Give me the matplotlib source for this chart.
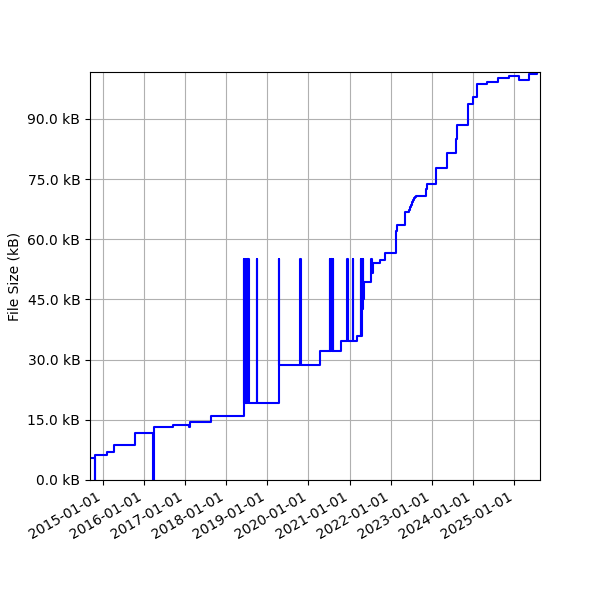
import matplotlib
matplotlib.use("Agg")
import matplotlib.pyplot as plt
import matplotlib.dates as mdates
from matplotlib.ticker import MultipleLocator, FuncFormatter
from datetime import datetime

# 文件大小历史 (kB)
dates = [
    "2014-09-12", "2014-10-22", "2014-10-30", "2015-02-08", "2015-04-12",
    "2015-10-16", "2016-03-28", "2016-04-05", "2016-09-16", "2017-02-03",
    "2017-02-14", "2017-08-19",
    "2018-06-06", "2018-06-08", "2018-06-10", "2018-06-12", "2018-06-14",
    "2018-06-16", "2018-06-19", "2018-06-21", "2018-06-24", "2018-06-26",
    "2018-06-29", "2018-07-01", "2018-07-04", "2018-07-06", "2018-07-09",
    "2018-07-11", "2018-07-14", "2018-07-16", "2018-07-19", "2018-07-22",
    "2018-10-01", "2018-10-04", "2019-04-13", "2019-04-16",
    "2019-10-22", "2019-10-25", "2020-04-16",
    "2020-07-09", "2020-07-12", "2020-07-16", "2020-07-19", "2020-07-23",
    "2020-07-26", "2020-07-30", "2020-08-02", "2020-08-06", "2020-08-08",
    "2020-10-19", "2020-12-13", "2020-12-16", "2021-01-30", "2021-02-02",
    "2021-03-04", "2021-04-13", "2021-04-16", "2021-04-20", "2021-04-23",
    "2021-04-27", "2021-04-30", "2021-05-04", "2021-05-10",
    "2021-07-13", "2021-07-16", "2021-07-27", "2021-09-25", "2021-11-07",
    "2022-02-13", "2022-02-25", "2022-05-10",
    "2022-06-12", "2022-06-16", "2022-06-20", "2022-06-24", "2022-06-28",
    "2022-07-02", "2022-07-06", "2022-07-10", "2022-07-14", "2022-07-18",
    "2022-07-22", "2022-07-26", "2022-07-30", "2022-08-04", "2022-08-10",
    "2022-08-18", "2022-11-10", "2022-11-20", "2023-02-10",
    "2023-05-12", "2023-08-07", "2023-08-14", "2023-11-17", "2024-01-05",
    "2024-02-07", "2024-05-08", "2024-08-11", "2024-11-17", "2025-02-10",
    "2025-05-08", "2025-07-23", "2025-08-17",
]
sizes_kb = [
    5.6, 0.0, 6.2, 7.1, 8.7,
    11.8, 0.0, 13.1, 13.8, 13.3,
    14.4, 16.0,
    55.2, 19.2, 55.2, 19.2, 55.2,
    19.2, 55.2, 19.2, 55.2, 19.2,
    55.2, 19.2, 55.2, 19.2, 55.2,
    19.2, 55.2, 19.2, 55.2, 19.2,
    55.2, 19.2, 55.2, 28.75,
    55.2, 28.75, 32.2,
    55.2, 32.2, 55.2, 32.2, 55.2,
    32.2, 55.2, 32.2, 55.2, 32.2,
    34.6, 55.2, 34.6, 55.2, 34.6,
    36.0, 55.2, 36.0, 55.2, 42.5,
    55.2, 44.6, 45.0, 49.3,
    55.2, 51.6, 54.2, 54.8, 56.6,
    62.1, 63.5, 66.8,
    67.1, 67.4, 67.7, 68.0, 68.3,
    68.6, 68.9, 69.2, 69.5, 69.8,
    70.0, 70.2, 70.4, 70.6, 70.7,
    70.8, 72.5, 73.8, 77.7,
    81.4, 85.0, 88.6, 93.8, 95.4,
    98.6, 99.2, 100.3, 100.8, 99.8,
    101.3, 101.7, 101.7,
]

x = [datetime.strptime(d, "%Y-%m-%d") for d in dates]

fig = plt.figure(figsize=(6, 6), dpi=100)
ax = fig.add_subplot(111)
ax.step(x, sizes_kb, where="post", color="blue", linewidth=1.5)

ax.set_xlim(x[0], x[-1])
ax.set_ylim(0, max(sizes_kb))
ax.yaxis.set_major_locator(MultipleLocator(15))
ax.yaxis.set_major_formatter(FuncFormatter(lambda v, p: "{:.1f} kB".format(v)))
ax.xaxis.set_major_locator(mdates.YearLocator())
ax.xaxis.set_major_formatter(mdates.DateFormatter("%Y-%m-%d"))
ax.set_ylabel("File Size (kB)")
ax.grid(True)

fig.autofmt_xdate()
fig.subplots_adjust(left=0.15, right=0.9, top=0.88, bottom=0.2)
fig.savefig("out.png", dpi=100)
